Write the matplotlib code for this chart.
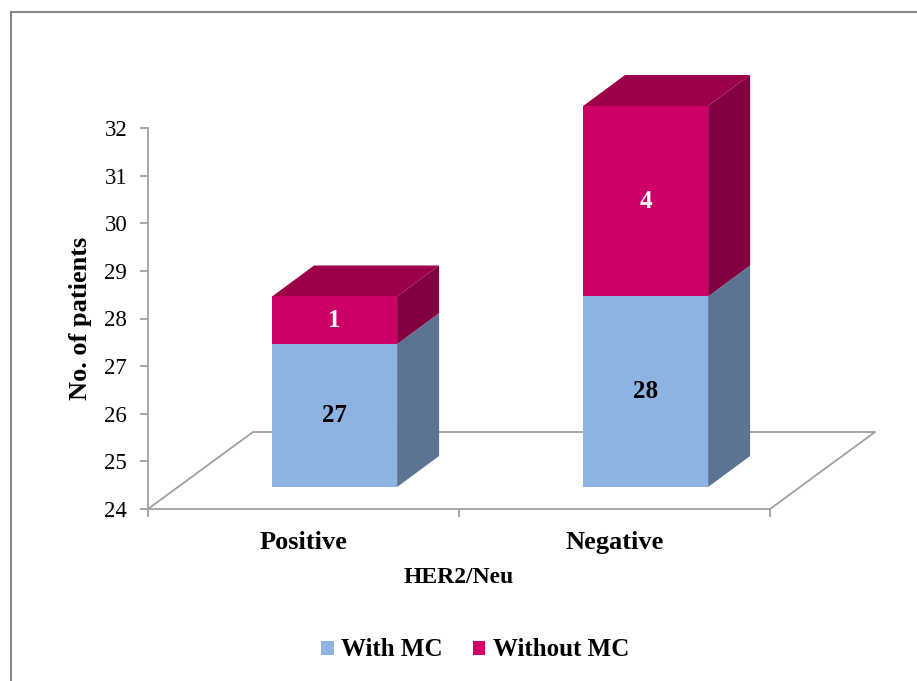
import matplotlib
matplotlib.use("Agg")
import matplotlib.pyplot as plt
from matplotlib.patches import Polygon, Patch
from matplotlib.lines import Line2D
from matplotlib.transforms import blended_transform_factory

# Data
categories = ["Positive", "Negative"]
with_mc = [27, 28]
without_mc = [1, 4]
series_names = ["With MC", "Without MC"]
y_ticks = [24, 25, 26, 27, 28, 29, 30, 31, 32]
x_title = "HER2/Neu"
y_title = "No. of patients"

# Styling
plt.rcParams["font.family"] = ["Liberation Serif", "DejaVu Serif"]
front_colors = ["#8DB3E2", "#CC0066"]
side_colors = ["#5B7493", "#830040"]
top_colors = ["#6F8FB8", "#9C0048"]
label_colors = ["black", "white"]
grey = "#A0A0A0"

Y_MIN, Y_MAX = 24, 32
BAR_W = 0.402
FRONT_DX, FRONT_DY = 0.100, 0.462   # bar front face set back into the floor
BAR_DX, BAR_DY = 0.135, 0.651       # bar depth
FLOOR_DX, FLOOR_DY = 0.3376, 1.617  # floor depth

fig = plt.figure(figsize=(9.17, 6.81), dpi=100)
ax = fig.add_axes([148 / 917, 1 - 509 / 681, 622 / 917, 381 / 681])
ax.set_xlim(0, 2)
ax.set_ylim(Y_MIN, Y_MAX)

# Spines and ticks
for s in ("top", "right"):
    ax.spines[s].set_visible(False)
for s in ("left", "bottom"):
    ax.spines[s].set_color(grey)
    ax.spines[s].set_linewidth(1.3)
ax.set_yticks(y_ticks)
ax.tick_params(axis="y", colors=grey, labelcolor="black", length=6, width=1.3,
               pad=9, labelsize=16.5)
ax.set_xticks([0, 1, 2])
ax.set_xticklabels([])
ax.tick_params(axis="x", which="major", colors=grey, length=6, width=1.3)

# Floor outline
floor_x = [0, FLOOR_DX, 2 + FLOOR_DX, 2]
floor_y = [Y_MIN, Y_MIN + FLOOR_DY, Y_MIN + FLOOR_DY, Y_MIN]
ax.plot(floor_x, floor_y, color=grey, lw=1.3, clip_on=False, zorder=1)

# Stacked 3D-looking bars
for i, cat in enumerate(categories):
    cx = i + 0.5 + FRONT_DX
    x0, x1 = cx - BAR_W / 2, cx + BAR_W / 2
    bottom = Y_MIN
    segs = [with_mc[i], without_mc[i]]
    cum = [Y_MIN, with_mc[i]]
    tops = [with_mc[i], with_mc[i] + without_mc[i]]
    for k, (lo, hi) in enumerate(zip(cum, tops)):
        y0, y1 = lo + FRONT_DY, hi + FRONT_DY
        front = Polygon([(x0, y0), (x1, y0), (x1, y1), (x0, y1)], closed=True,
                        facecolor=front_colors[k], edgecolor="none",
                        clip_on=False, zorder=3)
        side = Polygon([(x1, y0), (x1 + BAR_DX, y0 + BAR_DY),
                        (x1 + BAR_DX, y1 + BAR_DY), (x1, y1)], closed=True,
                       facecolor=side_colors[k], edgecolor="none",
                       clip_on=False, zorder=2)
        ax.add_patch(front)
        ax.add_patch(side)
        if k == len(tops) - 1:
            top = Polygon([(x0, y1), (x1, y1), (x1 + BAR_DX, y1 + BAR_DY),
                           (x0 + BAR_DX, y1 + BAR_DY)], closed=True,
                          facecolor=top_colors[k], edgecolor="none",
                          clip_on=False, zorder=2)
            ax.add_patch(top)
        ax.text(cx, (y0 + y1) / 2, f"{segs[k]}", ha="center", va="center",
                fontsize=18, fontweight="bold", color=label_colors[k], zorder=4)

# Category labels and axis titles
tr = blended_transform_factory(ax.transData, ax.transAxes)
for i, cat in enumerate(categories):
    ax.text(i + 0.5, -0.089, cat, transform=tr, ha="center", va="center",
            fontsize=19, fontweight="bold")
ax.text(0.5, -0.181, x_title, transform=ax.transAxes, ha="center", va="center",
        fontsize=17, fontweight="bold")
ax.text(-0.109, 0.5, y_title, transform=ax.transAxes, ha="center", va="center",
        rotation=90, fontsize=19, fontweight="bold")

# Legend
handles = [Patch(facecolor=c, edgecolor="none") for c in front_colors]
fig.legend(handles, series_names, loc="center", bbox_to_anchor=(475 / 917, 1 - 650 / 681),
           ncol=2, frameon=False, prop={"size": 18, "weight": "bold"},
           handlelength=0.5, handleheight=0.5, handletextpad=0.3, columnspacing=1.2)

# Outer border (top and left edges)
fig.add_artist(Line2D([11 / 917, 11 / 917], [0, 1 - 12 / 681], color="#888888",
                      lw=1.5, transform=fig.transFigure))
fig.add_artist(Line2D([11 / 917, 1], [1 - 12 / 681, 1 - 12 / 681], color="#888888",
                      lw=1.5, transform=fig.transFigure))

fig.savefig("out.png", dpi=100, facecolor="white")
